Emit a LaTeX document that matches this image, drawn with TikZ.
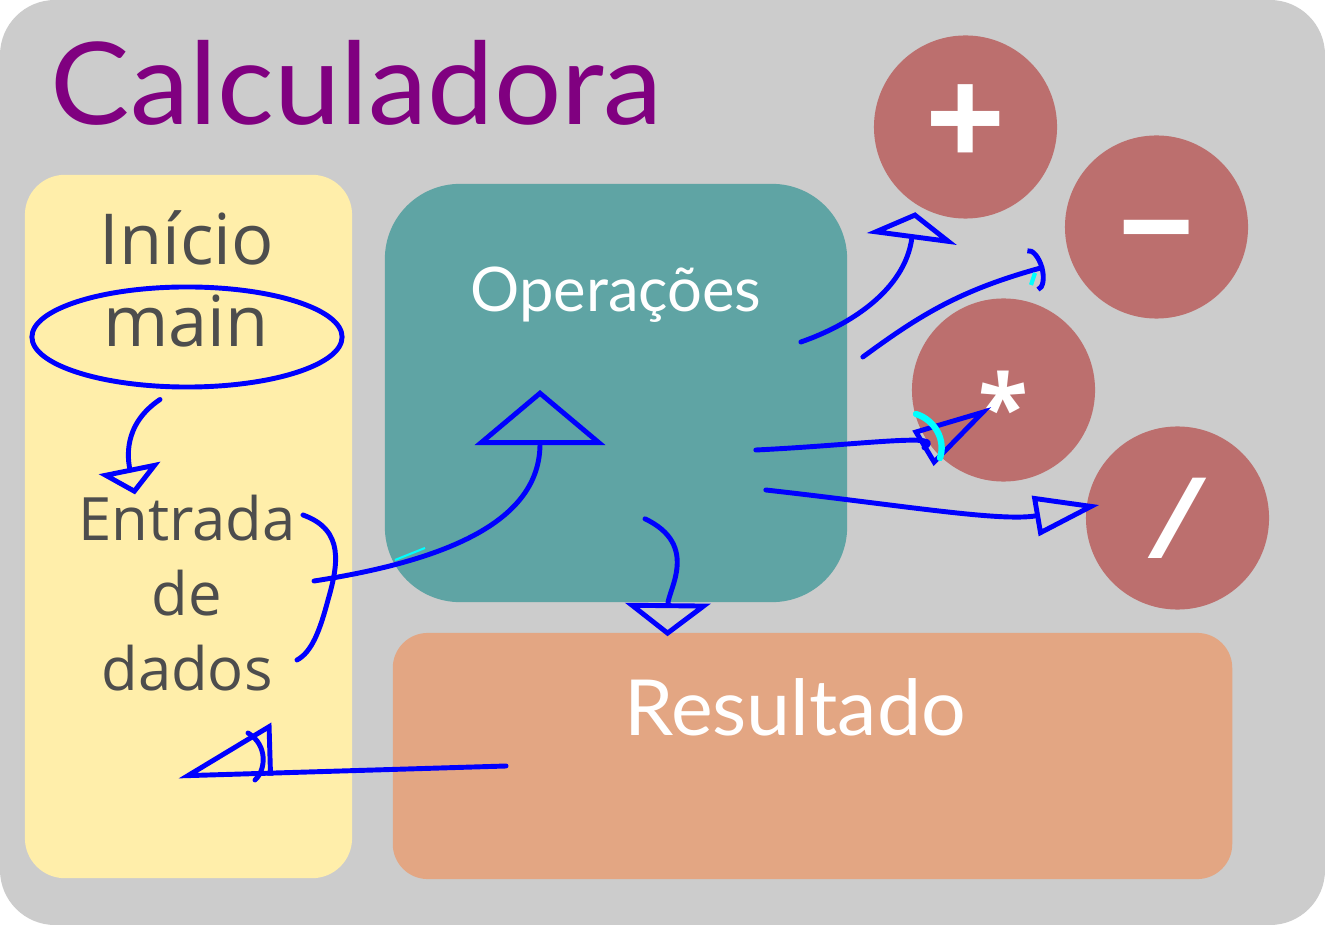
\documentclass[tikz,border=0pt]{standalone}
\usepackage{fontspec}
\setmainfont{Open Sans}
\newfontfamily\titlefont{Lato}
\usetikzlibrary{arrows.meta,calc,shapes.geometric}
\definecolor{boardgray}{HTML}{CCCCCC}
\definecolor{startyellow}{HTML}{FFEEAA}
\definecolor{opsteal}{HTML}{5FA4A4}
\definecolor{resorange}{HTML}{E3A683}
\definecolor{oprose}{HTML}{BC6F6E}
\definecolor{titlepurple}{HTML}{800080}
\definecolor{textgray}{HTML}{4D4D4D}
\definecolor{penblue}{HTML}{0000FF}
\definecolor{pencyan}{HTML}{00FFFF}

\begin{document}
\begin{tikzpicture}[x=0.01cm,y=-0.01cm,
    pen/.style={draw=penblue,line width=1.4pt,line cap=round,line join=round},
    box/.style={inner sep=0pt},
    oper/.style={circle,fill=oprose,minimum size=1.83cm,inner sep=0pt,text=white},
    label/.style={text=textgray,inner sep=0pt}]
    \useasboundingbox (0,0) rectangle (1325,925);
    \fill[white] (0,0) rectangle (1325,925);
    \fill[boardgray,rounded corners=0.55cm] (0,0) rectangle (1325,925);
    
    % boxes
    \node[box,fill=startyellow,rounded corners=0.4cm,minimum width=3.27cm,minimum height=7.03cm] (startbox) at (188.5,526.5) {};
    \node[box,fill=opsteal,rounded corners=0.75cm,minimum width=4.62cm,minimum height=4.18cm] (ops) at (616,393) {};
    \node[box,fill=resorange,rounded corners=0.35cm,minimum width=8.39cm,minimum height=2.46cm] (res) at (812.5,756) {};
    
    % operators
    \node[oper,font=\fontsize{40}{40}\bfseries\selectfont] (plus) at (965.5,127) {+};
    \node[oper,font=\fontsize{38}{38}\bfseries\selectfont,text height=27pt,text depth=0pt] (minus) at (1156.5,227) {−};
    \node[oper,font=\fontsize{26}{26}\bfseries\selectfont,text height=29pt,text depth=0pt] (times) at (1003.5,390) {*};
    \node[oper,font=\fontsize{32}{32}\selectfont] (div) at (1177.5,518) {\scalebox{1.5}[1]{/}};
    
    % texts
    \node[anchor=base west,inner sep=0pt,text=titlepurple,font=\titlefont\fontsize{32.5}{32.5}\selectfont] (title) at (50,125) {\scalebox{1.04}[1]{Calculadora}};
    \node[label,anchor=base,font=\fontsize{20}{20}\selectfont] (inicio) at (187,265) {Início};
    \node[label,anchor=base,font=\fontsize{20}{20}\selectfont] (main) at (186,347) {main};
    \node[label,align=center,font=\fontsize{17}{21.3}\selectfont] (entrada) at (187,593) {Entrada\\de\\dados};
    \node[anchor=base,inner sep=0pt,text=white,font=\titlefont\fontsize{17.5}{17.5}\selectfont] (opslabel) at (616,312) {Operações};
    \node[anchor=base,inner sep=0pt,text=white,font=\titlefont\fontsize{22}{22}\selectfont] (reslabel) at (795,735) {\scalebox{1.02}[1]{Resultado}};
    
    % hand drawn marks
    \node[ellipse,pen,minimum width=3.1cm,minimum height=1.0cm] (mainring) at (187,337) {};
    \draw[pen,-{Triangle[open,length=0.27cm,width=0.62cm]}] ($(mainring.south)+(-27,10)$) .. controls (122,425) and (128,460) .. ($(entrada.north)+(-52,0)$);
    
    \coordinate (bracetip) at (314,581);
    \draw[pen] (303,515) .. controls (345,530) and (338,565) .. (328,600) .. controls (320,630) and (312,652) .. (297,660);
    \draw[pen,-{Triangle[open,length=0.55cm,width=1.3cm]}] (bracetip) .. controls (450,560) and (540,520) .. ($(ops.center)+(-76,-3)$);
    \draw[draw=pencyan,line width=0.6pt] (395,560) -- (425,548);
    
    \draw[pen,-{Triangle[open,length=0.33cm,width=0.85cm]}] ($(ops.south)+(29,-84)$) .. controls (700,545) and (668,590) .. ($(res.north)+(-145,4)$);
    
    \draw[pen,-{Triangle[open,harpoon,swap,length=0.9cm,width=1.0cm]}] ($(res.west)+(114,10)$) -- ($(startbox.south)+(-10,-103)$);
    \draw[pen] (248,733) .. controls (268,745) and (266,770) .. (255,780);
    
    \draw[pen,-{Triangle[open,length=0.27cm,width=0.9cm]}] ($(ops.east)+(-47,-51)$) .. controls (850,325) and (905,290) .. ($(plus.south west)+(15,20)$);
    \draw[pen,-{Arc Barb[length=0.12cm,width=0.45cm]}] ($(ops.east)+(15,-36)$) .. controls (920,315) and (960,290) .. ($(minus.west)+(-20,40)$);
    \draw[draw=pencyan,line width=1.2pt] (1035,273) -- (1031,285);
    \draw[pen,-{Triangle[open,length=0.8cm,width=0.4cm]}] ($(ops.east)+(-92,57)$) .. controls (860,445) and (950,432) .. ($(times.center)+(-12,17)$);
    \draw[draw=pencyan,line width=1.8pt,line cap=round] (916,414) .. controls (935,420) and (946,440) .. (940,458);
    \draw[pen,-{Triangle[open,length=0.65cm,width=0.4cm]}] ($(ops.east)+(-82,97)$) .. controls (900,505) and (1000,522) .. ($(div.west)+(14,-13)$);
    
\end{tikzpicture}
\end{document}
